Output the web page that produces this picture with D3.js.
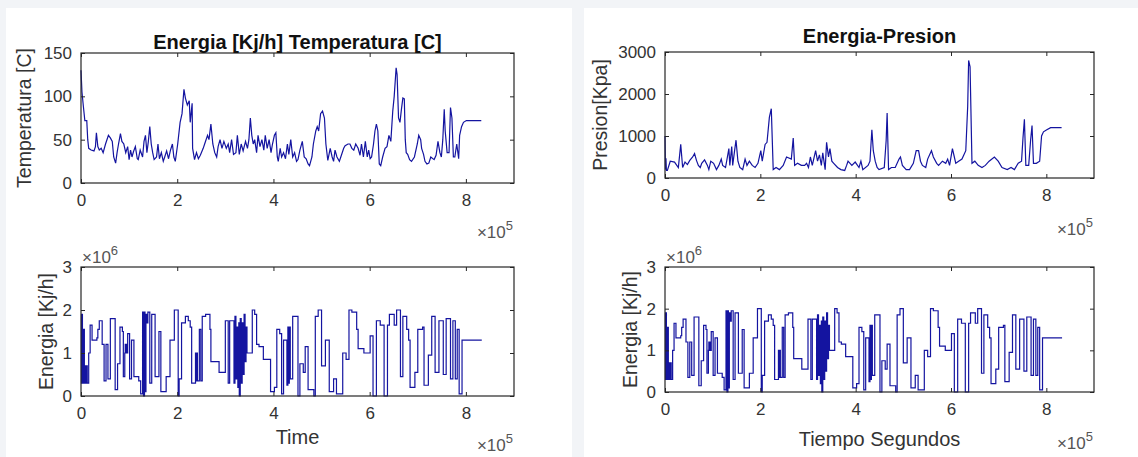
<!DOCTYPE html>
<html>
<head>
<meta charset="utf-8">
<script src="https://cdn.jsdelivr.net/npm/d3@7"></script>
<style>
  body { margin: 0; background: #f2f4f7; }
  svg { display: block; font-family: "Liberation Sans", Arial, Helvetica, sans-serif; }
</style>
</head>
<body>
<svg width="1138" height="457"></svg>
<script>
// time in units of 1e5 s
var xTicks = [0, 2, 4, 6, 8];

var tempT = [0.00,0.02,0.05,0.08,0.12,0.14,0.16,0.21,0.27,0.30,0.32,0.35,0.38,0.42,0.46,0.51,0.57,0.61,0.65,0.68,
  0.72,0.75,0.78,0.82,0.85,0.89,0.93,0.97,1.00,1.03,1.06,1.09,1.13,1.17,1.19,1.23,1.28,1.31,1.34,1.37,
  1.40,1.43,1.46,1.49,1.52,1.57,1.60,1.63,1.67,1.71,1.74,1.78,1.82,1.86,1.90,1.93,1.96,2.01,2.06,2.10,
  2.14,2.17,2.21,2.25,2.27,2.31,2.32,2.36,2.40,2.44,2.48,2.54,2.57,2.63,2.66,2.70,2.74,2.78,2.82,2.85,
  2.89,2.93,2.97,3.02,3.06,3.09,3.13,3.17,3.22,3.25,3.29,3.33,3.37,3.42,3.46,3.49,3.52,3.55,3.58,3.61,
  3.65,3.68,3.72,3.76,3.80,3.83,3.87,3.91,3.95,3.98,4.02,4.05,4.08,4.10,4.14,4.17,4.21,4.25,4.29,4.32,
  4.36,4.40,4.44,4.48,4.51,4.55,4.60,4.64,4.68,4.72,4.75,4.80,4.83,4.88,4.91,4.94,4.98,5.02,5.06,5.09,
  5.13,5.18,5.22,5.25,5.28,5.32,5.37,5.40,5.46,5.49,5.55,5.59,5.63,5.67,5.71,5.76,5.80,5.83,5.87,5.91,
  5.95,5.98,6.01,6.04,6.08,6.11,6.14,6.17,6.20,6.23,6.27,6.32,6.36,6.40,6.44,6.48,6.51,6.55,6.57,6.60,
  6.63,6.66,6.69,6.72,6.74,6.76,6.79,6.83,6.87,6.93,6.99,7.02,7.06,7.08,7.12,7.15,7.19,7.23,7.27,7.34,
  7.38,7.42,7.46,7.49,7.52,7.55,7.57,7.61,7.65,7.68,7.71,7.74,7.77,7.81,7.85,7.87,7.91,7.95,8.01,8.32];
var tempC = [130,105,88,72,72,50,40,38,37,42,58,42,38,40,35,45,55,52,48,30,
  23,35,45,57,48,45,35,42,27,38,30,36,42,28,27,38,30,48,55,35,
  48,65,45,35,27,30,45,28,35,25,30,37,28,38,45,30,25,45,70,80,
  108,98,90,95,70,92,40,27,35,28,32,40,45,55,50,68,45,35,30,42,
  50,40,48,40,45,35,50,33,35,55,33,45,37,48,40,50,75,55,45,50,
  35,55,42,50,38,55,40,50,35,45,55,58,30,25,40,30,35,28,45,33,
  50,30,35,25,27,38,48,30,28,22,20,30,45,60,65,60,80,83,75,45,
  26,40,30,25,38,30,25,30,40,43,45,45,40,38,45,40,32,45,30,48,
  30,38,28,30,45,60,68,60,22,20,30,40,42,55,48,83,100,133,125,75,
  70,85,98,97,50,35,33,27,25,30,45,55,50,40,33,25,22,23,30,27,
  32,48,35,30,50,85,60,35,35,87,75,30,30,45,28,55,65,70,72,72];

var presT = [0.00,0.01,0.02,0.03,0.05,0.11,0.20,0.28,0.33,0.37,0.42,0.47,0.52,0.58,0.62,0.66,0.70,0.74,0.77,0.83,
  0.89,0.92,0.96,1.02,1.08,1.13,1.18,1.21,1.27,1.34,1.36,1.40,1.42,1.46,1.49,1.53,1.57,1.63,1.68,1.72,
  1.77,1.83,1.89,1.95,2.01,2.04,2.10,2.14,2.19,2.23,2.27,2.33,2.40,2.48,2.55,2.65,2.69,2.72,2.78,2.86,
  2.93,2.97,3.01,3.05,3.09,3.16,3.20,3.24,3.28,3.31,3.36,3.39,3.43,3.46,3.50,3.54,3.62,3.69,3.77,3.81,
  3.84,3.92,3.99,4.07,4.11,4.15,4.26,4.30,4.34,4.37,4.41,4.45,4.49,4.60,4.64,4.66,4.69,4.75,4.83,4.91,
  4.94,4.98,5.06,5.13,5.21,5.27,5.32,5.36,5.40,5.47,5.51,5.59,5.63,5.70,5.74,5.82,5.89,5.93,5.97,6.03,
  6.07,6.10,6.16,6.23,6.31,6.35,6.37,6.40,6.44,6.50,6.57,6.65,6.72,6.80,6.91,6.99,7.07,7.18,7.26,7.33,
  7.41,7.48,7.51,7.54,7.57,7.63,7.67,7.70,7.73,7.79,7.86,7.90,7.94,8.01,8.09,8.32];
var presKpa = [1000,200,470,180,180,400,380,250,800,250,380,320,420,500,580,420,300,250,350,430,
  300,200,400,350,200,300,450,300,250,700,300,750,300,650,900,400,250,200,450,300,
  400,300,250,350,650,400,800,850,1450,1650,200,250,200,300,500,450,950,300,350,300,
  300,350,250,500,300,650,400,550,300,600,200,850,500,700,400,350,250,200,180,300,
  400,300,380,250,400,200,300,400,1150,650,400,250,200,250,900,1550,200,250,250,450,
  500,300,200,200,350,650,650,400,300,250,450,650,500,350,300,400,350,450,300,700,
  500,350,400,450,650,1700,2800,2650,350,400,300,250,300,400,500,400,250,200,250,200,
  350,400,950,1400,300,300,900,1250,350,350,400,1000,1100,1150,1200,1200];

// energy in units of 1e6 kJ/h, held constant until the next time value
var energyT = [0.00,0.01,0.02,0.03,0.05,0.07,0.08,0.09,0.10,0.11,0.12,0.13,0.16,0.19,0.23,0.33,0.35,0.38,0.44,0.48,
  0.52,0.56,0.61,0.71,0.76,0.81,0.86,0.88,0.91,0.92,0.93,0.94,0.95,0.97,1.01,1.05,1.10,1.20,1.24,1.28,
  1.30,1.32,1.33,1.35,1.37,1.39,1.43,1.47,1.54,1.62,1.66,1.77,1.85,1.94,2.02,2.04,2.09,2.17,2.23,2.27,
  2.30,2.38,2.39,2.40,2.42,2.46,2.49,2.52,2.59,2.68,2.70,2.87,3.00,3.06,3.09,3.18,3.20,3.22,3.24,3.26,
  3.28,3.29,3.31,3.33,3.35,3.37,3.39,3.41,3.43,3.45,3.56,3.61,3.65,3.70,3.79,3.94,4.02,4.07,4.13,4.17,
  4.21,4.28,4.30,4.31,4.33,4.35,4.40,4.51,4.55,4.62,4.66,4.72,4.84,4.87,4.93,5.00,5.08,5.16,5.25,5.31,
  5.44,5.51,5.57,5.63,5.73,5.76,5.88,6.01,6.07,6.14,6.22,6.30,6.37,6.41,6.51,6.56,6.64,6.69,6.77,6.81,
  6.84,6.94,7.00,7.10,7.13,7.22,7.29,7.36,7.44,7.53,7.59,7.68,7.73,7.78,7.82,7.86,7.92,8.33];
var energyMJ = [1.9,0.3,1.9,0.3,1.55,0.3,0.7,0.3,0.7,0.3,0.7,0.3,1.0,1.65,1.3,1.35,1.55,1.75,1.2,0.35,
  1.2,0.4,1.8,0.15,0.75,1.6,1.5,0.45,1.0,1.2,1.0,1.2,1.0,1.45,0.4,1.3,0.45,0.35,0.05,1.95,
  0.0,1.95,0.1,1.9,1.7,1.95,0.3,1.9,0.45,1.5,0.1,0.45,1.3,2.0,0.0,0.4,1.7,1.85,1.75,1.6,
  0.3,1.0,0.35,1.0,0.35,1.55,0.35,1.85,1.9,1.55,0.8,0.55,1.75,0.3,1.75,0.3,1.85,0.4,1.6,0.2,
  1.7,0.0,1.8,0.3,1.7,0.5,1.9,0.8,1.6,1.0,2.0,1.9,1.2,1.15,0.85,0.1,0.2,1.55,1.45,0.05,
  1.3,0.25,1.6,0.3,1.6,0.4,1.85,0.0,0.75,0.55,1.15,0.15,0.0,1.85,2.0,0.7,1.3,0.1,0.4,0.05,
  1.0,0.85,2.0,1.95,1.55,1.1,1.0,1.4,0.0,1.75,1.65,0.0,1.65,1.9,1.65,2.0,0.45,1.85,1.55,1.3,
  0.2,0.55,1.55,1.6,0.25,0.95,1.85,0.55,1.75,0.5,1.8,0.4,1.75,0.4,1.55,0.05,1.3,1.3];

var svg = d3.select("svg");
var lineColor = "#1414a0", axisColor = "#262626", tickColor = "#333";

// white picture panels
svg.append("rect").attr("x", 6).attr("y", 8).attr("width", 566).attr("height", 449).attr("fill", "#fff");
svg.append("rect").attr("x", 584).attr("y", 8).attr("width", 554).attr("height", 449).attr("fill", "#fff");

function panel(opt) {
  var g = svg.append("g");
  var x = d3.scaleLinear().domain([0, 9]).range([opt.x0, opt.x1]);
  var y = d3.scaleLinear().domain(opt.yDomain).range([opt.y1, opt.y0]);

  var line = d3.line()
    .x(function(d) { return x(d[0]); })
    .y(function(d) { return y(d[1]); });
  if (opt.step) line.curve(d3.curveStepAfter);

  var pts = opt.t.map(function(t, i) { return [t, opt.v[i]]; });
  g.append("path").datum(pts)
    .attr("d", line)
    .attr("fill", "none")
    .attr("stroke", lineColor)
    .attr("stroke-width", 1.2);

  // inward ticks on all four sides
  var bottom = g.append("g").attr("transform", "translate(0," + opt.y1 + ")")
    .call(d3.axisBottom(x).tickValues(xTicks).tickSize(-4).tickPadding(11));
  var top = g.append("g").attr("transform", "translate(0," + opt.y0 + ")")
    .call(d3.axisTop(x).tickValues(xTicks).tickSize(-4).tickFormat(""));
  var left = g.append("g").attr("transform", "translate(" + opt.x0 + ",0)")
    .call(d3.axisLeft(y).tickValues(opt.yTicks).tickSize(-4).tickPadding(9).tickFormat(d3.format("d")));
  var right = g.append("g").attr("transform", "translate(" + opt.x1 + ",0)")
    .call(d3.axisRight(y).tickValues(opt.yTicks).tickSize(-4).tickFormat(""));

  [bottom, top, left, right].forEach(function(a) {
    a.select(".domain").remove();
    a.selectAll("line").attr("stroke", axisColor);
    a.selectAll("text").attr("font-size", 17).attr("fill", tickColor)
      .attr("font-family", "Liberation Sans, Arial, sans-serif");
  });

  g.append("rect")
    .attr("x", opt.x0).attr("y", opt.y0)
    .attr("width", opt.x1 - opt.x0).attr("height", opt.y1 - opt.y0)
    .attr("fill", "none").attr("stroke", axisColor).attr("stroke-width", 1.2);

  g.append("text")
    .attr("transform", "translate(" + opt.ylabX + "," + ((opt.y0 + opt.y1) / 2) + ") rotate(-90)")
    .attr("text-anchor", "middle").attr("dy", "0.35em")
    .attr("font-size", 19.5).attr("fill", tickColor)
    .text(opt.ylabel);

  if (opt.title) {
    g.append("text")
      .attr("x", (opt.x0 + opt.x1) / 2).attr("y", opt.titleY)
      .attr("text-anchor", "middle").attr("font-size", 20).attr("font-weight", "bold")
      .attr("fill", "#111").text(opt.title);
  }
  if (opt.xlabel) {
    g.append("text")
      .attr("x", (opt.x0 + opt.x1) / 2).attr("y", opt.xlabY)
      .attr("text-anchor", "middle").attr("font-size", 20).attr("fill", tickColor)
      .text(opt.xlabel);
  }

  // x10^5 exponent under the x axis, right aligned
  var ex = g.append("text").attr("x", opt.x1 - 1).attr("y", opt.expY)
    .attr("text-anchor", "end").attr("font-size", 17).attr("fill", "#555");
  ex.append("tspan").text("\u00d710");
  ex.append("tspan").attr("dy", -8).attr("font-size", 13).text("5");

  if (opt.yExp) {
    var ey = g.append("text").attr("x", opt.x0 + 1).attr("y", opt.y0 - 4)
      .attr("font-size", 17).attr("fill", "#555");
    ey.append("tspan").text("\u00d710");
    ey.append("tspan").attr("dy", -8).attr("font-size", 13).text(opt.yExp);
  }
}

panel({ x0: 81, x1: 514, y0: 53, y1: 183, yDomain: [0, 150], yTicks: [0, 50, 100, 150],
  t: tempT, v: tempC, ylabel: "Temperatura [C]", ylabX: 24, title: "Energia [Kj/h] Temperatura [C]",
  titleY: 49, expY: 238 });
panel({ x0: 81, x1: 514, y0: 267, y1: 396, yDomain: [0, 3], yTicks: [0, 1, 2, 3], step: true,
  t: energyT, v: energyMJ, ylabel: "Energia [Kj/h]", ylabX: 46, xlabel: "Time", xlabY: 444,
  expY: 451, yExp: "6" });
panel({ x0: 665, x1: 1094, y0: 52, y1: 178, yDomain: [0, 3000], yTicks: [0, 1000, 2000, 3000],
  t: presT, v: presKpa, ylabel: "Presion[Kpa]", ylabX: 600, title: "Energia-Presion",
  titleY: 43, expY: 235 });
panel({ x0: 665, x1: 1094, y0: 267, y1: 392, yDomain: [0, 3], yTicks: [0, 1, 2, 3], step: true,
  t: energyT, v: energyMJ, ylabel: "Energia [Kj/h]", ylabX: 630, xlabel: "Tiempo Segundos", xlabY: 446,
  expY: 449, yExp: "6" });
</script>
</body>
</html>
